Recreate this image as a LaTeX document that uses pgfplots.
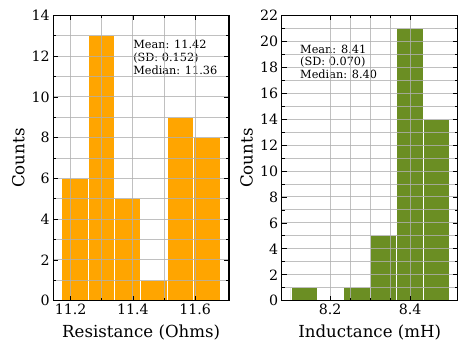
\documentclass[border=0pt]{standalone}
\usepackage{pgfplots}
\pgfplotsset{compat=1.18}
\usepackage{fontspec}
\setmainfont{DejaVu Serif}
\definecolor{barorange}{HTML}{FFA500}
\definecolor{bargreen}{HTML}{6B8E23}
\definecolor{gridgray}{HTML}{B0B0B0}
\pgfplotsset{
  myhist/.style={
    scale only axis, anchor=south west,
    height=285.2pt,
    ymin=0,
    grid=both,
    major grid style={gridgray, line width=1pt, opacity=0.8},
    minor grid style={gridgray, line width=1pt, opacity=0.8},
    axis on top,
    tick align=inside,
    major tick length=5pt, minor tick length=3pt,
    tick style={black, line width=0.8pt},
    axis line style={line width=1.1pt},
    xtick pos=both, ytick pos=both,
    xticklabel pos=lower, yticklabel pos=left,
    tick label style={font=\fontsize{14.2}{16}\selectfont},
    /pgf/number format/assume math mode=true,
    label style={font=\fontsize{16.6}{19}\selectfont},
    xlabel style={at={(axis description cs:0.5,-0.11)}, anchor=center},
    ylabel style={at={(axis description cs:-0.199,0.5)}, anchor=center},
    ylabel=Counts,
    minor y tick num=1,
  }
}
\begin{document}
\begin{tikzpicture}
\path[use as bounding box] (0,0) rectangle (469pt,351pt);
\begin{axis}[myhist, at={(53.3pt,50.3pt)}, width=175.7pt,
  xmin=11.144, xmax=11.709, ymax=14,
  xtick={11.2,11.4,11.6}, minor x tick num=1,
  ytick={0,2,...,14},
  xlabel={Resistance (Ohms)}]
\addplot[ybar interval, fill=barorange, draw=white, line width=0.8pt] coordinates {
(11.171,6) (11.256,13) (11.341,5) (11.425,1) (11.510,9) (11.595,8) (11.680,8)};
\node[anchor=north west, inner sep=0pt, align=left, font=\fontsize{11.3}{12.8}\selectfont]
  at (axis description cs:0.454,0.914) {Mean: 11.42\\(SD: 0.152)\\Median: 11.36};
\end{axis}
\begin{axis}[myhist, at={(281.7pt,50.3pt)}, width=176pt,
  xmin=8.079, xmax=8.519, ymax=22,
  xtick={8.2,8.4}, minor x tick num=3,
  ytick={0,2,...,22},
  xlabel={Inductance (mH)}]
\addplot[ybar interval, fill=bargreen, draw=white, line width=0.8pt] coordinates {
(8.102,1) (8.168,0) (8.234,1) (8.300,5) (8.366,21) (8.432,14) (8.498,14)};
\node[anchor=north west, inner sep=0pt, align=left, font=\fontsize{11.3}{12.8}\selectfont]
  at (axis description cs:0.104,0.898) {Mean: 8.41\\(SD: 0.070)\\Median: 8.40};
\end{axis}
\end{tikzpicture}
\end{document}
